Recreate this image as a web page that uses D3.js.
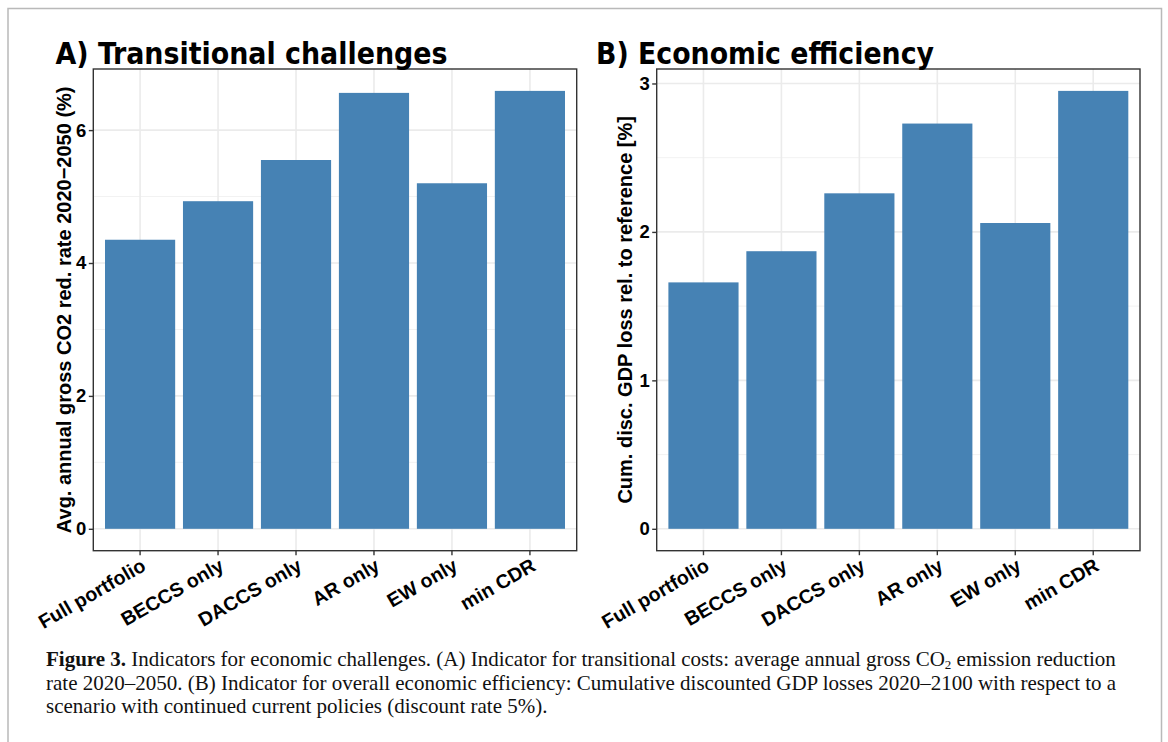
<!DOCTYPE html>
<html>
<head>
<meta charset="utf-8">
<script src="https://cdn.jsdelivr.net/npm/d3@7"></script>
<style>
  html, body { margin: 0; padding: 0; background: #fff; }
  svg { display: block; }
</style>
</head>
<body>
<svg id="fig" width="1168" height="742"></svg>
<script>
// Scenario categories shared by both panels
const categories = ["Full portfolio", "BECCS only", "DACCS only", "AR only", "EW only", "min CDR"];

// Panel A: average annual gross CO2 reduction rate 2020-2050 (%)
const reductionRate = [4.35, 4.93, 5.55, 6.56, 5.20, 6.59];
const reductionTicks = [0, 2, 4, 6];
const reductionMinor = [1, 3, 5];

// Panel B: cumulative discounted GDP loss relative to reference (%)
const gdpLoss = [1.66, 1.87, 2.26, 2.73, 2.06, 2.95];
const gdpTicks = [0, 1, 2, 3];
const gdpMinor = [0.5, 1.5, 2.5];

const panelTitles = ["A) Transitional challenges", "B) Economic efficiency"];
const axisTitles = [
  "Avg. annual gross CO2 red. rate 2020\u22122050 (%)",
  "Cum. disc. GDP loss rel. to reference [%]"
];

const svg = d3.select("#fig");
const BAR = "#4682B4";
const SANS = "'Liberation Sans', Arial, Helvetica, sans-serif";
const YTICK_SIZE = "18.5px";
const XLAB_SIZE = "19.6px";

// frame around the figure
svg.append("path")
  .attr("d", "M8,742 L8,8.5 L1161.5,8.5 L1161.5,742")
  .attr("fill", "none")
  .attr("stroke", "#b9b9b9")
  .attr("stroke-width", 1.5);

function drawPanel(opts) {
  const { left, right, top, bottom, values, ticks, minor, title, titleX, titleW, yTitle, yTitleX } = opts;
  const g = svg.append("g");

  const x = d3.scaleBand()
    .domain(categories)
    .range([left, right])
    .paddingInner(0.1)
    .paddingOuter(0.15);

  const vmax = d3.max(values);
  const y = d3.scaleLinear()
    .domain([-0.05 * vmax, 1.05 * vmax])
    .range([bottom, top]);

  // minor grid
  g.selectAll(".minor").data(minor).join("line")
    .attr("x1", left).attr("x2", right)
    .attr("y1", d => y(d)).attr("y2", d => y(d))
    .attr("stroke", "#f2f2f2").attr("stroke-width", 1);

  // major grid, horizontal
  g.selectAll(".major").data(ticks).join("line")
    .attr("x1", left).attr("x2", right)
    .attr("y1", d => y(d)).attr("y2", d => y(d))
    .attr("stroke", "#ebebeb").attr("stroke-width", 1.6);

  // major grid, vertical at category centres
  g.selectAll(".vgrid").data(categories).join("line")
    .attr("x1", d => x(d) + x.bandwidth() / 2).attr("x2", d => x(d) + x.bandwidth() / 2)
    .attr("y1", top).attr("y2", bottom)
    .attr("stroke", "#ebebeb").attr("stroke-width", 1.6);

  // bars
  g.selectAll(".bar").data(values).join("rect")
    .attr("x", (d, i) => x(categories[i]))
    .attr("width", x.bandwidth())
    .attr("y", d => y(d))
    .attr("height", d => y(0) - y(d))
    .attr("fill", BAR);

  // panel border
  g.append("rect")
    .attr("x", left).attr("y", top)
    .attr("width", right - left).attr("height", bottom - top)
    .attr("fill", "none").attr("stroke", "#333").attr("stroke-width", 1.4);

  // y axis
  const yAxis = g.append("g")
    .attr("transform", `translate(${left},0)`)
    .call(d3.axisLeft(y).tickValues(ticks).tickSize(4.5).tickPadding(2.5).tickFormat(d3.format("d")));
  yAxis.select(".domain").remove();
  yAxis.selectAll(".tick line").attr("stroke", "#333").attr("stroke-width", 1.4);
  yAxis.selectAll(".tick text")
    .attr("fill", "#000")
    .style("font-family", SANS).style("font-weight", "bold").style("font-size", YTICK_SIZE);

  // x axis ticks
  const xAxis = g.append("g")
    .attr("transform", `translate(0,${bottom})`)
    .call(d3.axisBottom(x).tickSize(4.5).tickFormat(""));
  xAxis.select(".domain").remove();
  xAxis.selectAll(".tick line").attr("stroke", "#333").attr("stroke-width", 1.4);

  // rotated category labels
  g.selectAll(".xlab").data(categories).join("text")
    .attr("transform", d => `translate(${x(d) + x.bandwidth() / 2},${bottom + 6.5}) rotate(-30)`)
    .attr("text-anchor", "end")
    .attr("dy", "0.72em")
    .attr("fill", "#000")
    .style("font-family", SANS).style("font-weight", "bold").style("font-size", XLAB_SIZE)
    .text(d => d);

  // y axis title
  g.append("text")
    .attr("transform", `translate(${yTitleX},${(top + bottom) / 2}) rotate(-90)`)
    .attr("text-anchor", "middle")
    .attr("dy", "0.36em")
    .attr("fill", "#000")
    .style("font-family", SANS).style("font-weight", "bold").style("font-size", "20px")
    .text(yTitle);

  // panel title
  g.append("text")
    .attr("x", titleX).attr("y", 64)
    .attr("textLength", titleW)
    .attr("lengthAdjust", "spacingAndGlyphs")
    .attr("fill", "#000")
    .style("font-family", "'DejaVu Sans Condensed', 'DejaVu Sans', Verdana, sans-serif")
    .style("font-weight", "bold").style("font-size", "31px")
    .text(title);
}

drawPanel({
  left: 93.3, right: 576.7, top: 69, bottom: 550.7,
  values: reductionRate, ticks: reductionTicks, minor: reductionMinor,
  title: panelTitles[0], titleX: 55.5, titleW: 392,
  yTitle: axisTitles[0], yTitleX: 64
});

drawPanel({
  left: 656.7, right: 1140, top: 69, bottom: 550.7,
  values: gdpLoss, ticks: gdpTicks, minor: gdpMinor,
  title: panelTitles[1], titleX: 596, titleW: 338,
  yTitle: axisTitles[1], yTitleX: 625
});

// caption
const SERIF = "'Liberation Serif', 'Times New Roman', serif";
const cap = svg.append("g")
  .attr("fill", "#111")
  .style("font-family", SERIF)
  .style("font-size", "21px");

const l1 = cap.append("text").attr("x", 46).attr("y", 666);
l1.append("tspan").style("font-weight", "bold").text("Figure 3.");
l1.append("tspan").text(" Indicators for economic challenges. (A) Indicator for transitional costs: average annual gross CO");
l1.append("tspan").attr("dy", 2.5).style("font-size", "13px").text("2");
l1.append("tspan").attr("dy", -2.5).text(" emission reduction");

cap.append("text").attr("x", 46).attr("y", 690)
  .text("rate 2020\u20132050. (B) Indicator for overall economic efficiency: Cumulative discounted GDP losses 2020\u20132100 with respect to a");

cap.append("text").attr("x", 46).attr("y", 713)
  .text("scenario with continued current policies (discount rate 5%).");
</script>
</body>
</html>
